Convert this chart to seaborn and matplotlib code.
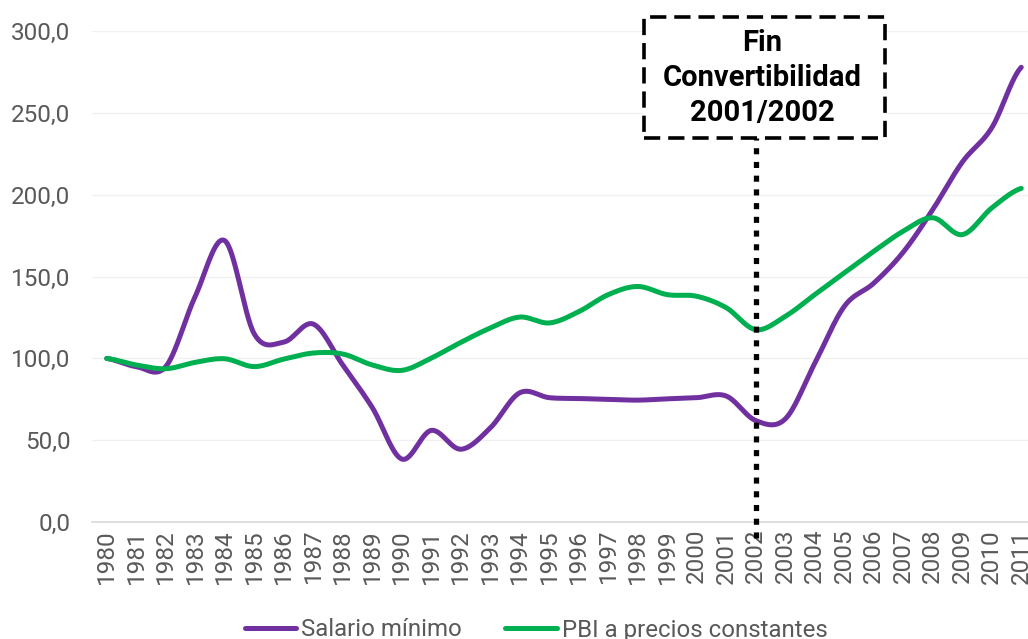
import numpy as np
import pandas as pd
import matplotlib
matplotlib.use("Agg")
import matplotlib.pyplot as plt
import seaborn as sns
from matplotlib.patches import Rectangle
from matplotlib.lines import Line2D

years = list(range(1980, 2012))
salario = [100, 95, 95, 138, 172, 115, 110, 121, 96, 70, 38.5, 56, 44.5, 57.5, 79,
           76, 75.5, 75, 74.5, 75.3, 76, 77, 62, 63, 97, 131.8, 146, 165, 191,
           220, 241, 278]
pbi = [100, 96, 93.7, 97.6, 99.8, 95, 99.6, 103.3, 102.7, 96, 92.7, 100.2, 109.8,
       118.6, 125.3, 121.7, 128.6, 139, 144, 139, 138, 131, 117.6, 125.7, 139,
       152.3, 165.5, 177.8, 186, 175.7, 192, 204]
series_names = ["Salario mínimo", "PBI a precios constantes"]
colors = ["#7030A0", "#00B050"]
ytick_vals = [0, 50, 100, 150, 200, 250, 300]
annot_text = "Fin\nConvertibilidad\n2001/2002"
annot_year = 2002


def smooth(vals, n=30):
    """Catmull-Rom smoothing like Excel's smoothed line (for drawing only)."""
    p = np.asarray(vals, dtype=float)
    pad = np.concatenate([[p[0]], p, [p[-1]]])
    xs, ys = [], []
    for i in range(len(p) - 1):
        p0, p1, p2, p3 = pad[i], pad[i + 1], pad[i + 2], pad[i + 3]
        m1 = (p2 - p0) / 2.0
        m2 = (p3 - p1) / 2.0
        t = np.linspace(0, 1, n, endpoint=False)
        h00 = 2 * t**3 - 3 * t**2 + 1
        h10 = t**3 - 2 * t**2 + t
        h01 = -2 * t**3 + 3 * t**2
        h11 = t**3 - t**2
        ys.append(h00 * p1 + h10 * m1 + h01 * p2 + h11 * m2)
        xs.append(i + t)
    xs.append([len(p) - 1])
    ys.append([p[-1]])
    return np.concatenate(xs), np.concatenate(ys)


sns.set_theme(style="white")
plt.rcParams["font.family"] = ["Roboto", "DejaVu Sans"]

fig = plt.figure(figsize=(10.28, 6.39), dpi=100)
ax = fig.add_axes([92 / 1028, 1 - 522 / 639, 944 / 1028, (522 - 31.3) / 639])

frames = []
for name, vals in zip(series_names, [salario, pbi]):
    sx, sy = smooth(vals)
    frames.append(pd.DataFrame({"x": sx, "y": sy, "serie": name}))
df = pd.concat(frames, ignore_index=True)

sns.lineplot(data=df, x="x", y="y", hue="serie", palette=colors,
             hue_order=series_names, sort=False, linewidth=3.6, ax=ax,
             legend=False, estimator=None, solid_capstyle="round")

ax.set_xlim(-0.5, len(years) - 0.5)
ax.set_ylim(0, 300)
ax.set_xticks(range(len(years)))
ax.set_xticklabels([str(y) for y in years], rotation=90)
ax.set_yticks(ytick_vals)
ax.set_yticklabels([f"{v:.1f}".replace(".", ",") for v in ytick_vals])
ax.tick_params(axis="both", length=0, labelsize=17.5, colors="#595959")
ax.tick_params(axis="x", pad=5)
ax.tick_params(axis="y", pad=15.5)
ax.set_xlabel("")
ax.set_ylabel("")
for s in ["top", "right", "left"]:
    ax.spines[s].set_visible(False)
ax.spines["bottom"].set_color("#d9d9d9")
ax.spines["bottom"].set_linewidth(1.2)
ax.grid(axis="y", color="#f0f0f0", linewidth=1)
ax.set_axisbelow(True)

# vertical dotted line at 2002
xi = years.index(annot_year)
ax.plot([xi, xi], [-9.5, 235], color="black", linewidth=3.8,
        linestyle=(0, (1.15, 1.45)), clip_on=False, zorder=5)

# annotation box
box = Rectangle((644 / 1028, 1 - 138 / 639), (885 - 644) / 1028, (138 - 17) / 639,
                transform=fig.transFigure, facecolor="white", edgecolor="black",
                linewidth=2.6, linestyle=(0, (4.5, 2.2)), zorder=6)
fig.add_artist(box)
fig.text(762 / 1028, 1 - 78 / 639, annot_text, ha="center", va="center",
         fontsize=21, fontweight="bold", color="black", linespacing=1.3,
         zorder=7)

handles = [Line2D([0], [0], color=c, linewidth=3.6) for c in colors]
fig.legend(handles, series_names, loc="center", bbox_to_anchor=(536 / 1028, 1 - 630 / 639),
           ncol=2, frameon=False, fontsize=17.3, labelcolor="#595959",
           handlelength=2.15, handletextpad=0.2, columnspacing=1.8)

fig.savefig("out.png", dpi=100)
